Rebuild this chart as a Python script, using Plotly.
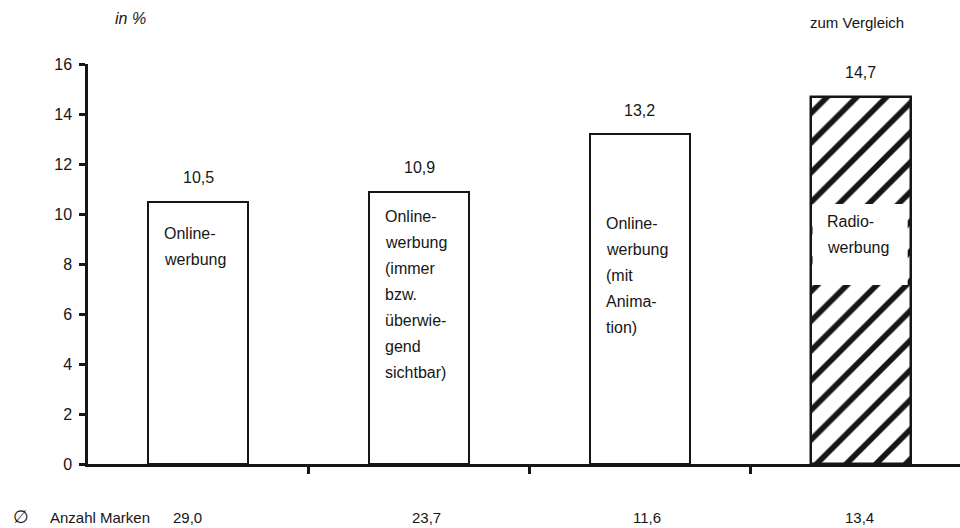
import plotly.graph_objects as go

# --- data -----------------------------------------------------------------
categories = [
    "Online-<br>werbung",
    "Online-<br>werbung<br>(immer<br>bzw.<br>überwie-<br>gend<br>sichtbar)",
    "Online-<br>werbung<br>(mit<br>Anima-<br>tion)",
    "Radio-<br>werbung",
]
values = [10.5, 10.9, 13.2, 14.7]
anzahl_marken = [29.0, 23.7, 11.6, 13.4]
y_ticks = [0, 2, 4, 6, 8, 10, 12, 14, 16]

# --- geometry / style ------------------------------------------------------
W, H = 960, 528
M_L, M_R, M_T, M_B = 88, 0, 64, 64
X_RANGE = [-0.5, 3.45]
Y_RANGE = [0, 16]
BAR_W = 0.453
FONT = "Liberation Sans"
FS = 16
FS_SMALL = 15
INK = "#161616"

# where the first line of each inside label sits (data units) and its line pitch
label_top = [9.24, 9.92, 9.64, 9.72]
line_pitch_px = 26
# horizontal nudge of the "Anzahl Marken" figures relative to bar centres
marken_shift = [-11, 7, 7, -1]


def fmt(v):
    return f"{v:.1f}".replace(".", ",")


def px_to_xpaper(px):
    return (px - M_L) / (W - M_L - M_R)


def px_to_ypaper(py):
    return (H - M_B - py) / (H - M_T - M_B)


xs = list(range(len(values)))
is_radio = [i == len(values) - 1 for i in xs]

fig = go.Figure()

# online bars (plain white)
fig.add_trace(go.Bar(
    x=[x for x, r in zip(xs, is_radio) if not r],
    y=[v for v, r in zip(values, is_radio) if not r],
    width=BAR_W,
    marker=dict(color="white", line=dict(color=INK, width=2)),
    hoverinfo="skip",
))

# radio bar (hatched, shown for comparison)
fig.add_trace(go.Bar(
    x=[x for x, r in zip(xs, is_radio) if r],
    y=[v for v, r in zip(values, is_radio) if r],
    width=BAR_W,
    marker=dict(
        color="white",
        line=dict(color=INK, width=2.5),
        pattern=dict(shape="/", fgcolor=INK, bgcolor="white", fgopacity=1,
                     size=21, solidity=0.27),
    ),
    hoverinfo="skip",
))

annotations = []

# value labels above bars
for x, v in zip(xs, values):
    annotations.append(dict(
        x=x, y=v, xref="x", yref="y", text=fmt(v), showarrow=False,
        yanchor="middle", yshift=24, font=dict(family=FONT, size=FS, color=INK),
    ))

# white box behind the radio label
shapes = []
rx = xs[-1]
shapes.append(dict(
    type="rect", xref="x", yref="y",
    x0=rx - 0.218, x1=rx + 0.213,
    y0=(H - M_B - 285) / 25, y1=(H - M_B - 204) / 25,
    fillcolor="white", line=dict(width=0), layer="above",
))

# inside labels, line by line
for x, label, top in zip(xs, categories, label_top):
    for i, line in enumerate(label.split("<br>")):
        annotations.append(dict(
            x=x - BAR_W / 2, y=top, xref="x", yref="y", text=line, showarrow=False,
            xanchor="left", yanchor="middle", xshift=14, yshift=-i * line_pitch_px,
            font=dict(family=FONT, size=FS, color=INK),
        ))

# bottom row: average number of brands
row_y = px_to_ypaper(517)
annotations.append(dict(
    x=px_to_xpaper(21), y=row_y, xref="paper", yref="paper", text="∅", showarrow=False,
    xanchor="center", yanchor="middle", font=dict(family=FONT, size=18, color=INK),
))
annotations.append(dict(
    x=px_to_xpaper(48), y=row_y, xref="paper", yref="paper", text="Anzahl Marken",
    showarrow=False, xanchor="left", yanchor="middle",
    font=dict(family=FONT, size=FS_SMALL, color=INK),
))
for x, m, s in zip(xs, anzahl_marken, marken_shift):
    annotations.append(dict(
        x=x, y=row_y, xref="x", yref="paper", text=fmt(m), showarrow=False,
        xanchor="center", yanchor="middle", xshift=s,
        font=dict(family=FONT, size=FS_SMALL, color=INK),
    ))

# unit and comparison captions
annotations.append(dict(
    x=px_to_xpaper(130), y=px_to_ypaper(19), xref="paper", yref="paper",
    text="<i>in %</i>", showarrow=False, xanchor="center", yanchor="middle",
    font=dict(family=FONT, size=FS, color=INK),
))
annotations.append(dict(
    x=px_to_xpaper(857), y=px_to_ypaper(22), xref="paper", yref="paper",
    text="zum Vergleich", showarrow=False, xanchor="center", yanchor="middle",
    font=dict(family=FONT, size=FS_SMALL, color=INK),
))

fig.update_layout(
    width=W, height=H,
    margin=dict(l=M_L, r=M_R, t=M_T, b=M_B, pad=0),
    paper_bgcolor="white", plot_bgcolor="white",
    showlegend=False, bargap=0,
    font=dict(family=FONT, size=FS, color=INK),
    annotations=annotations, shapes=shapes,
    xaxis=dict(
        range=X_RANGE, showgrid=False, zeroline=False,
        showline=True, linecolor=INK, linewidth=2.5,
        tickmode="array", tickvals=[0.5, 1.5, 2.5], ticks="outside",
        ticklen=7, tickwidth=2.5, tickcolor=INK, showticklabels=False,
        fixedrange=True,
    ),
    yaxis=dict(
        range=Y_RANGE, showgrid=False, zeroline=False,
        showline=True, linecolor=INK, linewidth=2.5,
        tickmode="array", tickvals=y_ticks, ticktext=[str(t) for t in y_ticks],
        ticks="outside", ticklen=6, tickwidth=2.5, tickcolor=INK,
        tickfont=dict(family=FONT, size=FS, color=INK), ticklabelstandoff=4,
        fixedrange=True,
    ),
)

fig.write_html("out.html", config={"displayModeBar": False})
